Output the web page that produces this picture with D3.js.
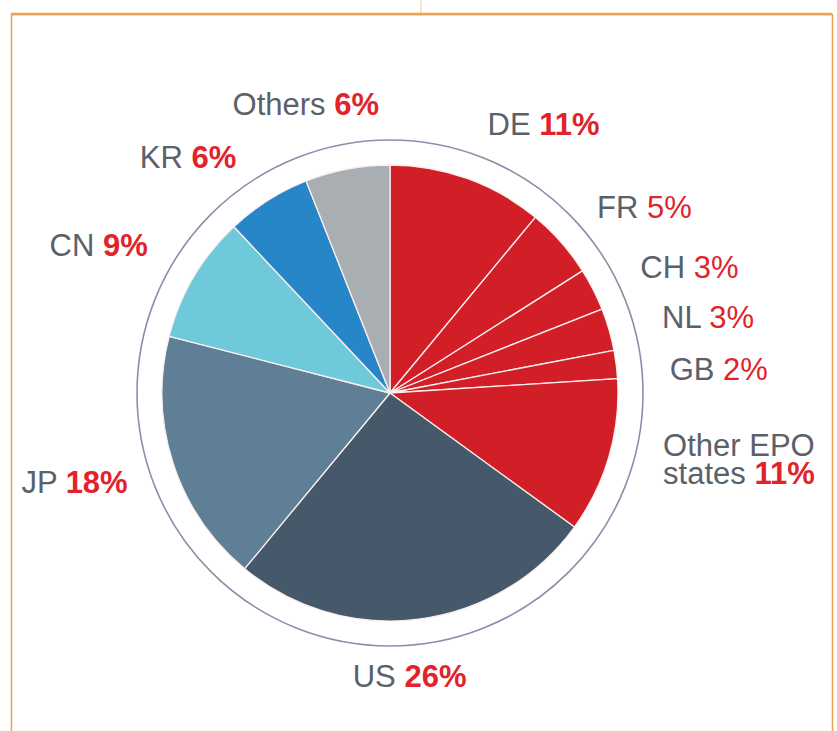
<!DOCTYPE html>
<html>
<head>
<meta charset="utf-8">
<script src="https://cdn.jsdelivr.net/npm/d3@7"></script>
<style>
  html, body { margin: 0; padding: 0; background: #fff; }
  svg { display: block; }
</style>
</head>
<body>
<div id="chart"></div>
<script>
// share of applications by origin, clockwise from 12 o'clock
const codes = ["DE", "FR", "CH", "NL", "GB", "Other EPO\nstates", "US", "JP", "CN", "KR", "Others"];
const shares = [11, 5, 3, 3, 2, 11, 26, 18, 9, 6, 6];
const colors = ["#d21f27", "#d21f27", "#d21f27", "#d21f27", "#d21f27", "#d21f27",
                "#46596b", "#5f7f97", "#6ecadb", "#2686c8", "#a8aeb1"];
const boldPct = [true, false, false, false, false, true, true, true, true, true, true];

// hand tuned label nudges (dx, dy) from the polar anchor point
const labelNudge = [[-4, 14], [-18, 13], [-17, 11], [-16, 9], [-18, 15], [-15, -17],
                    [-18, -14], [23, -3], [16, 6], [7, 18], [-28, 7]];

const width = 837, height = 731;
const cx = 390, cy = 393;
const radius = 228, ringR = 253, labelR = 300;

const svg = d3.select("#chart").append("svg")
    .attr("width", width)
    .attr("height", height);

// orange frame
const frame = svg.append("g").attr("fill", "none").attr("stroke", "#e9a050");
frame.append("line").attr("x1", 421).attr("x2", 421).attr("y1", 0).attr("y2", 14)
    .attr("stroke-width", 0.8).attr("stroke-opacity", 0.7);
frame.append("path")
    .attr("d", `M11.5,${height} V14.5 H832.5 V${height}`)
    .attr("stroke-width", 1.5);
frame.append("line").attr("x1", 11).attr("x2", 832).attr("y1", 14).attr("y2", 14)
    .attr("stroke-width", 2.5).attr("stroke", "#eba456");

const data = codes.map((c, i) => ({ code: c, value: shares[i], color: colors[i], bold: boldPct[i], nudge: labelNudge[i] }));

const pie = d3.pie().value(d => d.value).sort(null);
const arcs = pie(data);
const arc = d3.arc().innerRadius(0).outerRadius(radius);

const g = svg.append("g").attr("transform", `translate(${cx},${cy})`);

g.append("circle")
    .attr("r", ringR)
    .attr("fill", "none")
    .attr("stroke", "#8a90aa")
    .attr("stroke-width", 1.6);

g.selectAll("path.slice")
    .data(arcs)
    .join("path")
    .attr("class", "slice")
    .attr("d", arc)
    .attr("fill", d => d.data.color)
    .attr("stroke", "#fbeeee")
    .attr("stroke-width", 1.3)
    .attr("stroke-linejoin", "round");

// labels
const lineH = 28;
const labels = svg.append("g")
    .attr("font-family", "'Liberation Sans', Arial, sans-serif")
    .attr("font-size", 31);

arcs.forEach(a => {
    const mid = (a.startAngle + a.endAngle) / 2;
    const s = Math.sin(mid);
    const px = cx + labelR * s;
    const py = cy - labelR * Math.cos(mid);
    const anchor = s > 0.2 ? "start" : (s < -0.2 ? "end" : "middle");
    const lines = a.data.code.split("\n");
    const x = px + a.data.nudge[0];
    const y0 = py + 10 + a.data.nudge[1] - (lines.length - 1) * lineH / 2;

    const t = labels.append("text")
        .attr("text-anchor", anchor)
        .attr("x", x)
        .attr("y", y0);

    lines.forEach((ln, j) => {
        const last = j === lines.length - 1;
        const sp = t.append("tspan")
            .attr("fill", "#5b6169")
            .text(last ? ln + " " : ln);
        if (j > 0) sp.attr("x", x).attr("dy", lineH);
        if (last) {
            t.append("tspan")
                .attr("fill", "#e1232b")
                .attr("font-weight", a.data.bold ? "bold" : "normal")
                .text(a.data.value + "%");
        }
    });
});
</script>
</body>
</html>
